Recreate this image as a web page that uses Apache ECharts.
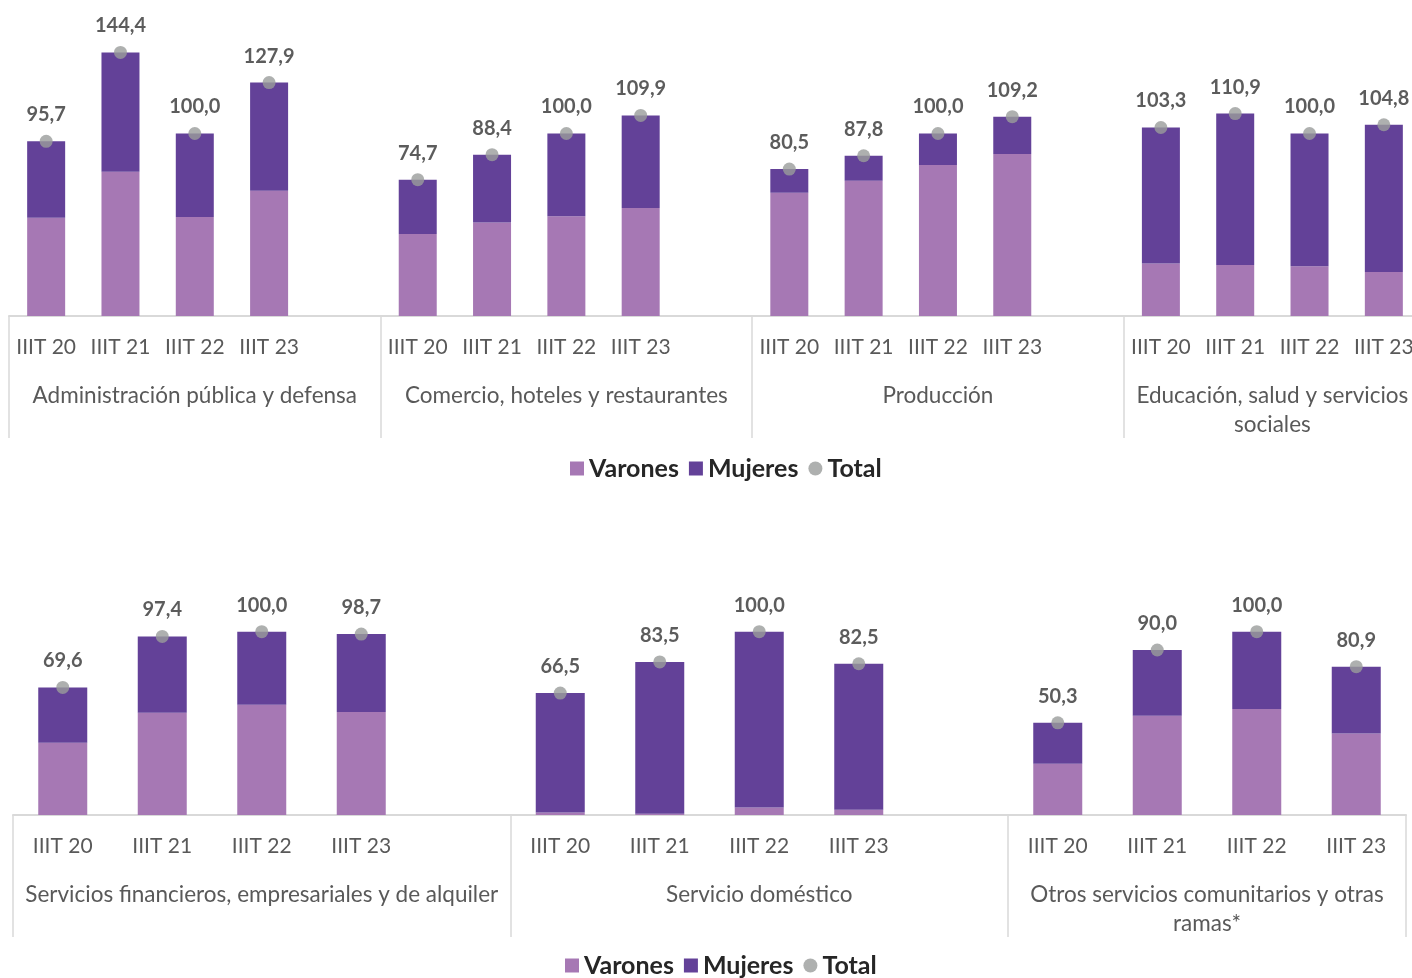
<!DOCTYPE html>
<html>
<head>
<meta charset="utf-8">
<script src="https://cdn.jsdelivr.net/npm/echarts@6/dist/echarts.min.js"></script>
<style>
  html, body { margin: 0; padding: 0; background: #fff; }
  #chart { width: 1412px; height: 978px; }
</style>
</head>
<body>
<div id="chart"></div>
<script>
var periodos = ['IIIT 20', 'IIIT 21', 'IIIT 22', 'IIIT 23']

// panel superior
var ramasArriba = ['Administración pública y defensa', 'Comercio, hoteles y restaurantes', 'Producción', 'Educación, salud y servicios\nsociales']
var varonesArriba = [[53.8, 79.0, 54.3, 68.6], [45.0, 51.2, 54.7, 59.2], [67.6, 74.1, 82.8, 88.7], [28.7, 28.0, 27.3, 24.1]]
var mujeresArriba = [[41.9, 65.4, 45.7, 59.3], [29.7, 37.2, 45.3, 50.7], [12.9, 13.7, 17.2, 20.5], [74.6, 82.9, 72.7, 80.7]]
var totalArriba = [[95.7, 144.4, 100.0, 127.9], [74.7, 88.4, 100.0, 109.9], [80.5, 87.8, 100.0, 109.2], [103.3, 110.9, 100.0, 104.8]]

// panel inferior
var ramasAbajo = ['Servicios financieros, empresariales y de alquiler', 'Servicio doméstico', 'Otros servicios comunitarios y otras\nramas*']
var varonesAbajo = [[39.4, 55.8, 60.2, 56.2], [1.4, 0.7, 4.1, 2.9], [28.0, 54.2, 57.8, 44.4]]
var mujeresAbajo = [[30.2, 41.6, 39.8, 42.5], [65.1, 82.8, 95.9, 79.6], [22.3, 35.8, 42.2, 36.5]]
var totalAbajo = [[69.6, 97.4, 100.0, 98.7], [66.5, 83.5, 100.0, 82.5], [50.3, 90.0, 100.0, 80.9]]

var colVarones = '#A678B4'
var colMujeres = '#634198'
var colTotal = '#9A9C9B'
var fuente = 'Lato'

// arma las categorias con un hueco vacio entre ramas
function armarCategorias(ramas) {
  var cats = []
  ramas.forEach(function (r, g) {
    periodos.forEach(function (p) { cats.push(g + '|' + p) })
    if (g < ramas.length - 1) cats.push(g + '|')
  })
  return cats
}
function armarSerie(ramas, valores) {
  var out = []
  ramas.forEach(function (r, g) {
    valores[g].forEach(function (v) { out.push(v) })
    if (g < ramas.length - 1) out.push(null)
  })
  return out
}
// posicion (en categorias) del centro de cada rama
function centrosRamas(ramas) {
  var res = {}
  var ini = 0
  ramas.forEach(function (r, g) {
    var ancho = g < ramas.length - 1 ? 5 : 4
    res[(ini + ancho / 2).toFixed(1)] = r
    ini += ancho
  })
  return res
}

var catsArriba = armarCategorias(ramasArriba)
var catsAbajo = armarCategorias(ramasAbajo)
var centrosArriba = centrosRamas(ramasArriba)
var centrosAbajo = centrosRamas(ramasAbajo)

function ejePeriodos(gridIndex, cats) {
  return {
    type: 'category', gridIndex: gridIndex, data: cats, position: 'bottom',
    axisLine: { show: true, lineStyle: { color: '#D9D9D9', width: 2 } },
    axisTick: {
      show: true, length: 122,
      interval: function (idx) { return idx % 5 === 0 },
      lineStyle: { color: '#D9D9D9', width: 1.5 }
    },
    axisLabel: {
      interval: 0, margin: 21, fontFamily: fuente, fontSize: 21, color: '#595959',
      formatter: function (v) { return v.split('|')[1] }
    }
  }
}
function ejeRamas(gridIndex, n, centros) {
  return {
    type: 'value', gridIndex: gridIndex, min: 0, max: n, interval: 0.5, position: 'bottom',
    axisLine: { show: false }, axisTick: { show: false }, splitLine: { show: false },
    axisLabel: {
      margin: 65, fontFamily: fuente, fontSize: 22.5, color: '#595959', lineHeight: 29,
      align: 'center', showMinLabel: true, showMaxLabel: true,
      formatter: function (v) { return centros[v.toFixed(1)] || '' }
    }
  }
}
function ejeY(gridIndex, max) {
  return { type: 'value', gridIndex: gridIndex, min: 0, max: max, show: false, splitLine: { show: false } }
}

function etiquetaTotal(p) { return p.value.toFixed(1).replace('.', ',') }

function series(xi, cats, ramas, varones, mujeres, total, ancho) {
  return [
    { name: 'Varones', type: 'bar', xAxisIndex: xi, yAxisIndex: xi / 2, stack: 's' + xi, barWidth: ancho,
      itemStyle: { color: colVarones }, data: armarSerie(ramas, varones) },
    { name: 'Mujeres', type: 'bar', xAxisIndex: xi, yAxisIndex: xi / 2, stack: 's' + xi, barWidth: ancho,
      itemStyle: { color: colMujeres }, data: armarSerie(ramas, mujeres) },
    { name: 'Total', type: 'scatter', xAxisIndex: xi, yAxisIndex: xi / 2, symbolSize: 13, z: 5,
      itemStyle: { color: colTotal },
      label: { show: true, position: 'top', distance: 10, fontFamily: fuente, fontSize: 20, fontWeight: 'bold',
        color: '#333333', formatter: etiquetaTotal },
      data: armarSerie(ramas, total) }
  ]
}

function leyenda(top, left) {
  return {
    top: top, left: left, itemWidth: 14, itemHeight: 14, itemGap: 10,
    textStyle: { fontFamily: fuente, fontSize: 25, fontWeight: 'bold', color: '#262626' },
    data: [{ name: 'Varones', icon: 'rect' }, { name: 'Mujeres', icon: 'rect' }, { name: 'Total', icon: 'circle' }]
  }
}

var chart = echarts.init(document.getElementById('chart'))
chart.setOption({
  animation: false,
  legend: [leyenda(451, 565), leyenda(948, 560)],
  grid: [
    { left: 9, width: 1412, top: 24, height: 292, outerBoundsMode: 'none' },
    { left: 13, right: 6, top: 595, height: 220, outerBoundsMode: 'none' }
  ],
  xAxis: [
    ejePeriodos(0, catsArriba), ejeRamas(0, catsArriba.length, centrosArriba),
    ejePeriodos(1, catsAbajo), ejeRamas(1, catsAbajo.length, centrosAbajo)
  ],
  yAxis: [ejeY(0, 160), ejeY(1, 120)],
  series: []
    .concat(series(0, catsArriba, ramasArriba, varonesArriba, mujeresArriba, totalArriba, 38))
    .concat(series(2, catsAbajo, ramasAbajo, varonesAbajo, mujeresAbajo, totalAbajo, 49))
})
</script>
</body>
</html>
